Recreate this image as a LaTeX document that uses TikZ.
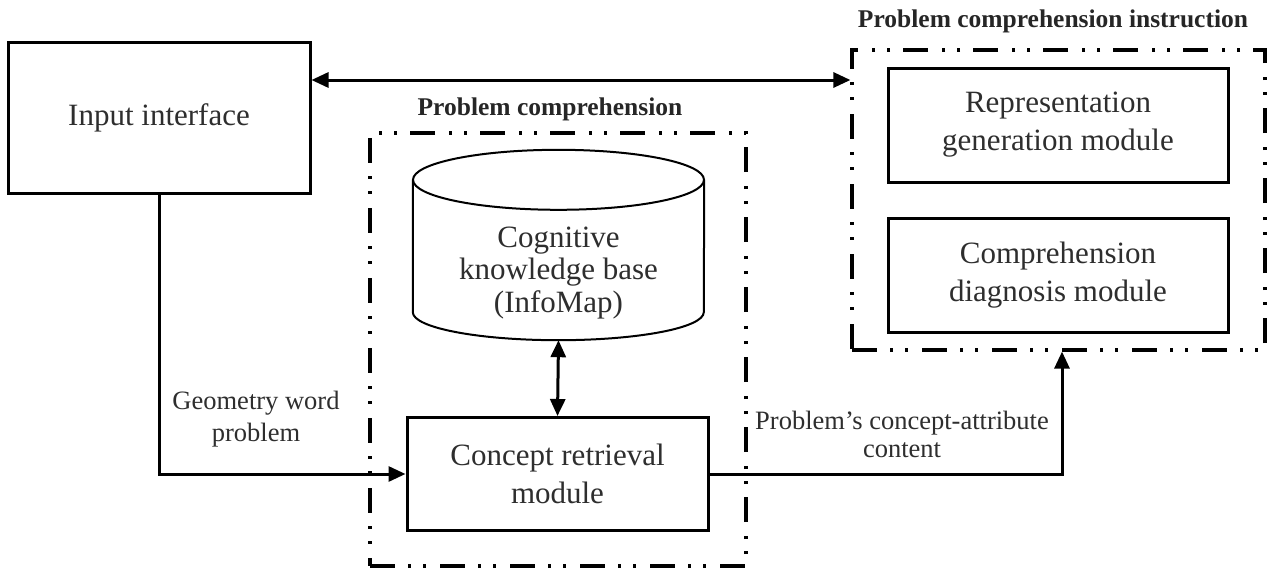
\documentclass[tikz,border=0pt]{standalone}
\usepackage{fontspec}
\setmainfont{Liberation Serif}
\usetikzlibrary{arrows.meta,calc}

\tikzset{
  every picture/.style={x=1pt,y=-1pt},
  txt/.style={text=black!82, align=center, font=\fontsize{31}{38}\selectfont},
  modbox/.style={draw=black, line width=3pt, txt, inner sep=0pt},
  lbl/.style={text=black!82, align=center, font=\fontsize{26.5}{30}\selectfont},
  ttl/.style={text=black!85, font=\fontsize{25.5}{28}\selectfont\bfseries},
  group/.style={draw=black, line width=3.2pt,
    dash pattern=on 25pt off 13pt on 3pt off 12pt on 3pt off 14pt},
  conn/.style={line width=3pt, -{Triangle[length=17pt,width=15pt]}},
  biconn/.style={line width=3pt, {Triangle[length=17pt,width=15pt]}-{Triangle[length=17pt,width=15pt]}},
}

\begin{document}
\begin{tikzpicture}
\useasboundingbox[fill=white] (0,0) rectangle (1270,570);

% input block
\node[modbox, minimum width=302pt, minimum height=151pt] (ii) at (159,117.5) {Input interface};

% problem comprehension group
\node[group, minimum width=376pt, minimum height=433pt] (pc) at (558,349.5) {};
\node[ttl] (pct) at (550,109) {Problem comprehension};

% knowledge base cylinder (y grows downwards here)
\node[minimum width=291pt, minimum height=190pt, inner sep=0pt] (kb) at (558.5,245) {};
\draw[line width=2pt]
  ($(kb.north west)+(0,30)$) -- ($(kb.south west)+(0,-28)$)
  arc[start angle=180, end angle=0, x radius=145.5, y radius=28]
  -- ($(kb.north east)+(0,30)$);
\draw[line width=2pt] ($(kb.north)+(0,30)$) ellipse[x radius=145.5, y radius=30];
\node[txt, font=\fontsize{31}{32.5}\selectfont, inner sep=0pt] (kbt) at ($(kb.center)+(0,28)$) {Cognitive\\knowledge base\\(InfoMap)};

% concept retrieval
\node[modbox, minimum width=301pt, minimum height=113pt] (cr) at (557.5,474) {Concept retrieval\\module};

% instruction group
\node[group, minimum width=413pt, minimum height=300pt] (pci) at (1058.5,200) {};
\node[ttl] (pcit) at (1053,21) {Problem comprehension instruction};
\node[modbox, minimum width=340pt, minimum height=114pt] (rg) at (1058,125) {Representation\\generation module};
\node[modbox, minimum width=340pt, minimum height=114pt] (cd) at (1058,275) {Comprehension\\diagnosis module};

% connectors
\coordinate (iiE) at (ii.east |- 0,80);
\coordinate (pciW) at (pci.west |- 0,80);
\draw[biconn] (iiE) -- (pciW);

\draw[biconn] (kb.south) -- (cr.north);

\draw[conn] (ii.south) |- (cr.west);

\coordinate (turn) at (1062,474);
\draw[conn] (cr.east) -- (turn) -- (turn |- pci.south);

% connector labels
\node[lbl, font=\fontsize{26.5}{32}\selectfont] (gwp) at (256,419) {Geometry word\\problem};
\node[lbl, font=\fontsize{26.5}{28}\selectfont] (pca) at (902,434) {Problem’s concept-attribute\\content};
\end{tikzpicture}
\end{document}
